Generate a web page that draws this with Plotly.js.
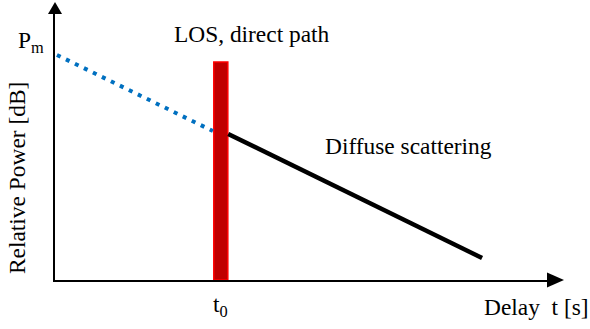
<!DOCTYPE html>
<html>
<head>
<meta charset="utf-8">
<script src="https://cdn.plot.ly/plotly-3.0.1.min.js"></script>
<style>
  html, body { margin: 0; padding: 0; background: #fff; }
  #chart { width: 590px; height: 329px; }
</style>
</head>
<body>
<div id="chart"></div>
<script>
// Power delay profile sketch: delay t (arbitrary units), relative power (arbitrary dB units)
const t0 = 3.37;
const losPower = 8.2;
const losWidth = 0.285;

// dashed part before t0 (extrapolated decay from Pm)
const earlyDelay = [0.04, 3.21];
const earlyPower = [8.46, 5.6];

// diffuse scattering tail
const diffuseDelay = [3.52, 8.68];
const diffusePower = [5.49, 0.83];

const pmLevel = 8.46;

// plot area in pixels (origin at left/bottom of the axes)
const L = 55, R = 547, T = 14, B = 280;
const px = x => (x - L) / (R - L);
const py = y => (B - y) / (B - T);

const font = { family: '"Liberation Serif", "Times New Roman", serif', size: 23.4, color: '#000' };

const traces = [
  {
    type: 'scatter',
    mode: 'lines',
    x: earlyDelay,
    y: earlyPower,
    line: { color: '#0070C0', width: 4, dash: '4px,6px' },
    hoverinfo: 'skip'
  },
  {
    type: 'scatter',
    mode: 'lines',
    x: diffuseDelay,
    y: diffusePower,
    line: { color: '#000000', width: 4.5 },
    hoverinfo: 'skip'
  },
  {
    type: 'bar',
    x: [t0],
    y: [losPower],
    width: [losWidth],
    marker: { color: '#C00000', line: { color: '#FF0000', width: 1.5 } },
    hoverinfo: 'skip'
  }
];

const arrowShapes = [
  // y-axis arrowhead
  {
    type: 'path', xref: 'paper', yref: 'paper',
    path: `M ${px(48)} ${py(14)} L ${px(62)} ${py(14)} L ${px(55)} ${py(2)} Z`,
    fillcolor: '#000', line: { width: 0 }
  },
  // x-axis arrowhead
  {
    type: 'path', xref: 'paper', yref: 'paper',
    path: `M ${px(547)} ${py(272.5)} L ${px(547)} ${py(287.5)} L ${px(564)} ${py(280)} Z`,
    fillcolor: '#000', line: { width: 0 }
  }
];

const label = (text, opts) => Object.assign({
  text: text, showarrow: false, font: font, xanchor: 'center', yanchor: 'middle'
}, opts);

const annotations = [
  label('P<sub>m</sub>', { xref: 'paper', yref: 'y', x: px(31), y: pmLevel, yshift: 13 }),
  label('LOS, direct path', { xref: 'x', yref: 'paper', x: t0, y: py(34.5), xshift: 31 }),
  label('Diffuse scattering', { xref: 'paper', yref: 'paper', x: px(408), y: py(145.5) }),
  label('t<sub>0</sub>', { xref: 'x', yref: 'paper', x: t0, y: py(305.5) }),
  label('Delay  t [s]', { xref: 'paper', yref: 'paper', x: px(536), y: py(307) }),
  label('Relative Power [dB]', { xref: 'paper', yref: 'paper', x: px(17), y: py(178), textangle: -90 })
];

const layout = {
  width: 590,
  height: 329,
  margin: { l: L, r: 590 - R, t: T, b: 329 - B, pad: 0 },
  paper_bgcolor: '#fff',
  plot_bgcolor: '#fff',
  showlegend: false,
  xaxis: {
    range: [0, 10], showgrid: false, zeroline: false, showticklabels: false, ticks: '',
    showline: true, linecolor: '#000', linewidth: 2, fixedrange: true
  },
  yaxis: {
    range: [0, 10], showgrid: false, zeroline: false, showticklabels: false, ticks: '',
    showline: true, linecolor: '#000', linewidth: 2, fixedrange: true
  },
  shapes: arrowShapes,
  annotations: annotations
};

Plotly.newPlot('chart', traces, layout, { staticPlot: true, displayModeBar: false });
</script>
</body>
</html>
